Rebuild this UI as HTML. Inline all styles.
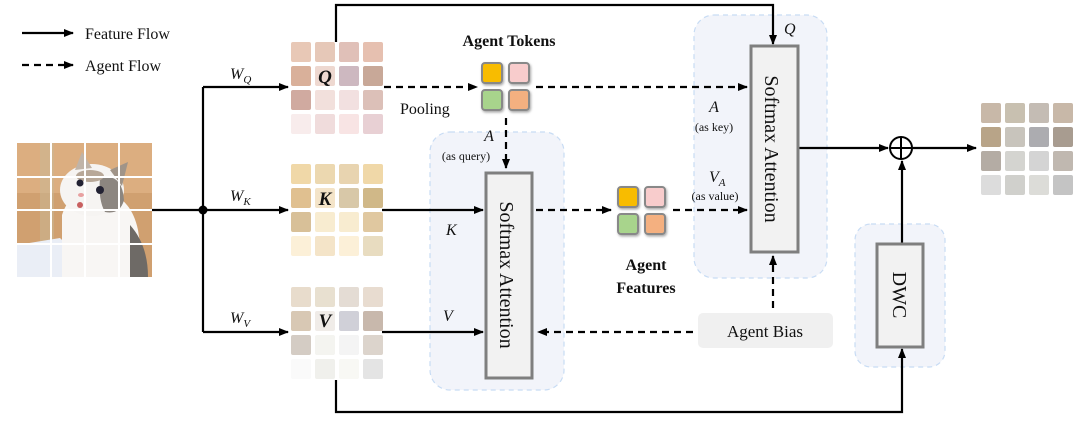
<!DOCTYPE html>
<html><head><meta charset="utf-8"><style>
html,body{margin:0;padding:0;background:#fff;width:1080px;height:429px;overflow:hidden}
svg{display:block}
text{font-family:"Liberation Serif",serif;fill:#111}
</style></head><body>
<svg width="1080" height="429" viewBox="0 0 1080 429" xmlns="http://www.w3.org/2000/svg">
<defs>
<marker id="ah" markerWidth="10" markerHeight="8" refX="9" refY="4" orient="auto" markerUnits="userSpaceOnUse">
<path d="M0,0 L10,4 L0,8 Z" fill="#000"/></marker>
<filter id="sh" x="-30%" y="-30%" width="160%" height="160%"><feDropShadow dx="1" dy="1.5" stdDeviation="1.2" flood-color="#000" flood-opacity="0.35"/></filter>
<clipPath id="catclip"><rect x="17" y="143" width="135" height="134"/></clipPath>
</defs>

<!-- containers first -->
<rect x="430" y="132" width="134" height="258" rx="20" fill="#f2f4fa" stroke="#c8dcf4" stroke-width="1.2" stroke-dasharray="5,4"/>
<rect x="694" y="15" width="133" height="263" rx="20" fill="#f2f4fa" stroke="#c8dcf4" stroke-width="1.2" stroke-dasharray="5,4"/>
<rect x="855" y="224" width="90" height="143" rx="16" fill="#f2f4fa" stroke="#c8dcf4" stroke-width="1.2" stroke-dasharray="5,4"/>

<!-- legend -->
<line x1="22" y1="33" x2="73" y2="33" stroke="#000" stroke-width="2.2" marker-end="url(#ah)"/>
<text x="85" y="39" font-size="16">Feature Flow</text>
<line x1="22" y1="65" x2="73" y2="65" stroke="#000" stroke-width="2.2" stroke-dasharray="7,5" marker-end="url(#ah)"/>
<text x="85" y="71" font-size="16">Agent Flow</text>

<!-- cat -->
<g clip-path="url(#catclip)">
<rect x="17" y="143" width="135" height="134" fill="#d0a070"/>
<rect x="17" y="143" width="135" height="50" fill="#dcae80"/>
<rect x="40" y="143" width="14" height="110" fill="#c8b896" opacity="0.5"/>
<path d="M17,245 L60,238 L100,277 L17,277 Z" fill="#eaeef6"/>
<path d="M62,277 L62,215 Q70,190 95,190 Q130,192 138,230 L145,277 Z" fill="#f8f6f4"/>
<ellipse cx="92" cy="190" rx="32" ry="26" fill="#f6f4f2"/>
<path d="M75,170 L82,152 L92,168 Z" fill="#c0b4a8"/>
<path d="M110,170 L128,162 L122,186 Z" fill="#a09488"/>
<path d="M100,178 Q122,172 124,200 Q120,215 105,212 Q98,200 100,178 Z" fill="#8c8680"/>
<ellipse cx="90" cy="176" rx="14" ry="6" fill="#b8a898"/>
<path d="M130,225 Q148,245 148,277 L130,277 Z" fill="#6e6a66"/>
<circle cx="80" cy="183" r="3.5" fill="#223"/><circle cx="100" cy="190" r="4" fill="#223"/>
<ellipse cx="81" cy="195" rx="3" ry="2" fill="#e8a0a0"/>
<ellipse cx="80" cy="205" rx="3" ry="3" fill="#c86060"/>
</g>
<g stroke="#fff" stroke-width="2">
<line x1="51" y1="143" x2="51" y2="277"/><line x1="85" y1="143" x2="85" y2="277"/><line x1="119" y1="143" x2="119" y2="277"/>
<line x1="17" y1="177" x2="152" y2="177"/><line x1="17" y1="210" x2="152" y2="210"/><line x1="17" y1="244" x2="152" y2="244"/>
</g>

<!-- branch lines -->
<g stroke="#000" stroke-width="2.2" fill="none">
<line x1="152" y1="210" x2="203" y2="210"/>
<line x1="203" y1="87" x2="203" y2="332"/>
<line x1="203" y1="87" x2="288" y2="87" marker-end="url(#ah)"/>
<line x1="203" y1="210" x2="288" y2="210" marker-end="url(#ah)"/>
<line x1="203" y1="332" x2="288" y2="332" marker-end="url(#ah)"/>
<polyline points="336,42 336,5 773,5 773,44" marker-end="url(#ah)"/>
<polyline points="336,380 336,412 902,412 902,349" marker-end="url(#ah)"/>
<line x1="382" y1="210" x2="483" y2="210" marker-end="url(#ah)"/>
<line x1="382" y1="332" x2="483" y2="332" marker-end="url(#ah)"/>
<line x1="798" y1="148" x2="888" y2="148" marker-end="url(#ah)"/>
<line x1="912" y1="148" x2="976" y2="148" marker-end="url(#ah)"/>
<line x1="902" y1="243" x2="902" y2="161" marker-end="url(#ah)"/>
</g>
<circle cx="203" cy="210" r="4.5" fill="#000"/>
<text x="230" y="79" font-size="16" font-style="italic">W<tspan font-size="11" dy="4">Q</tspan></text>
<text x="230" y="201" font-size="16" font-style="italic">W<tspan font-size="11" dy="4">K</tspan></text>
<text x="230" y="323" font-size="16" font-style="italic">W<tspan font-size="11" dy="4">V</tspan></text>

<g>
<rect x="291" y="42" width="20" height="20" rx="2" fill="#e8c8b6"/><rect x="315" y="42" width="20" height="20" rx="2" fill="#e6c8b8"/><rect x="339" y="42" width="20" height="20" rx="2" fill="#e0c0b8"/><rect x="363" y="42" width="20" height="20" rx="2" fill="#e6c0b0"/>
<rect x="291" y="66" width="20" height="20" rx="2" fill="#d9b09a"/><rect x="315" y="66" width="20" height="20" rx="2" fill="#eed8d0"/><rect x="339" y="66" width="20" height="20" rx="2" fill="#cdb8c0"/><rect x="363" y="66" width="20" height="20" rx="2" fill="#c8a898"/>
<rect x="291" y="90" width="20" height="20" rx="2" fill="#d0aaa0"/><rect x="315" y="90" width="20" height="20" rx="2" fill="#f2e0dc"/><rect x="339" y="90" width="20" height="20" rx="2" fill="#f2e0e0"/><rect x="363" y="90" width="20" height="20" rx="2" fill="#dcc0b8"/>
<rect x="291" y="114" width="20" height="20" rx="2" fill="#f8ecec"/><rect x="315" y="114" width="20" height="20" rx="2" fill="#f0dcdc"/><rect x="339" y="114" width="20" height="20" rx="2" fill="#f8e4e4"/><rect x="363" y="114" width="20" height="20" rx="2" fill="#e8d0d4"/>
<rect x="291" y="164" width="20" height="20" rx="2" fill="#f0d8a8"/><rect x="315" y="164" width="20" height="20" rx="2" fill="#ecd8b0"/><rect x="339" y="164" width="20" height="20" rx="2" fill="#e8d4b0"/><rect x="363" y="164" width="20" height="20" rx="2" fill="#f0d8a8"/>
<rect x="291" y="188" width="20" height="20" rx="2" fill="#e0c090"/><rect x="315" y="188" width="20" height="20" rx="2" fill="#f4e4c8"/><rect x="339" y="188" width="20" height="20" rx="2" fill="#d8c8a8"/><rect x="363" y="188" width="20" height="20" rx="2" fill="#d0b888"/>
<rect x="291" y="212" width="20" height="20" rx="2" fill="#d8c098"/><rect x="315" y="212" width="20" height="20" rx="2" fill="#f8ecd0"/><rect x="339" y="212" width="20" height="20" rx="2" fill="#f8ecd0"/><rect x="363" y="212" width="20" height="20" rx="2" fill="#e0c8a0"/>
<rect x="291" y="236" width="20" height="20" rx="2" fill="#fcf0d8"/><rect x="315" y="236" width="20" height="20" rx="2" fill="#f4e4c8"/><rect x="339" y="236" width="20" height="20" rx="2" fill="#fcf0d8"/><rect x="363" y="236" width="20" height="20" rx="2" fill="#e8dcc0"/>
<rect x="291" y="287" width="20" height="20" rx="2" fill="#e8dccc"/><rect x="315" y="287" width="20" height="20" rx="2" fill="#e8e0d0"/><rect x="339" y="287" width="20" height="20" rx="2" fill="#e4dcd4"/><rect x="363" y="287" width="20" height="20" rx="2" fill="#e8dcd0"/>
<rect x="291" y="311" width="20" height="20" rx="2" fill="#d8c8b4"/><rect x="315" y="311" width="20" height="20" rx="2" fill="#f0ece8"/><rect x="339" y="311" width="20" height="20" rx="2" fill="#d0d0d8"/><rect x="363" y="311" width="20" height="20" rx="2" fill="#c8b8ac"/>
<rect x="291" y="335" width="20" height="20" rx="2" fill="#d4ccc4"/><rect x="315" y="335" width="20" height="20" rx="2" fill="#f4f4f0"/><rect x="339" y="335" width="20" height="20" rx="2" fill="#f4f4f4"/><rect x="363" y="335" width="20" height="20" rx="2" fill="#dcd4cc"/>
<rect x="291" y="359" width="20" height="20" rx="2" fill="#fafafa"/><rect x="315" y="359" width="20" height="20" rx="2" fill="#f0f0ec"/><rect x="339" y="359" width="20" height="20" rx="2" fill="#f8f8f4"/><rect x="363" y="359" width="20" height="20" rx="2" fill="#e4e4e4"/>
<rect x="981" y="103" width="20" height="20" rx="2" fill="#c8b8a8"/><rect x="1005" y="103" width="20" height="20" rx="2" fill="#c8c0b0"/><rect x="1029" y="103" width="20" height="20" rx="2" fill="#c4bcb4"/><rect x="1053" y="103" width="20" height="20" rx="2" fill="#c8b8a8"/>
<rect x="981" y="127" width="20" height="20" rx="2" fill="#b8a488"/><rect x="1005" y="127" width="20" height="20" rx="2" fill="#c8c4bc"/><rect x="1029" y="127" width="20" height="20" rx="2" fill="#acacb0"/><rect x="1053" y="127" width="20" height="20" rx="2" fill="#a89c90"/>
<rect x="981" y="151" width="20" height="20" rx="2" fill="#b4aca4"/><rect x="1005" y="151" width="20" height="20" rx="2" fill="#d4d4d0"/><rect x="1029" y="151" width="20" height="20" rx="2" fill="#d4d4d4"/><rect x="1053" y="151" width="20" height="20" rx="2" fill="#c0b8b0"/>
<rect x="981" y="175" width="20" height="20" rx="2" fill="#dcdcdc"/><rect x="1005" y="175" width="20" height="20" rx="2" fill="#d0d0cc"/><rect x="1029" y="175" width="20" height="20" rx="2" fill="#dcdcd8"/><rect x="1053" y="175" width="20" height="20" rx="2" fill="#c4c4c4"/>
</g>
<text x="325" y="83" font-size="19" font-weight="bold" font-style="italic" text-anchor="middle">Q</text>
<text x="325" y="205" font-size="19" font-weight="bold" font-style="italic" text-anchor="middle">K</text>
<text x="325" y="327" font-size="19" font-weight="bold" font-style="italic" text-anchor="middle">V</text>

<g stroke="#000" stroke-width="2.2" stroke-dasharray="7,5" fill="none">
<line x1="384" y1="87" x2="477" y2="87" marker-end="url(#ah)"/>
<line x1="536" y1="87" x2="747" y2="87" marker-end="url(#ah)"/>
<line x1="506" y1="118" x2="506" y2="168" marker-end="url(#ah)"/>
<line x1="536" y1="210" x2="611" y2="210" marker-end="url(#ah)"/>
<line x1="673" y1="210" x2="747" y2="210" marker-end="url(#ah)"/>
<line x1="693" y1="332" x2="538" y2="332" marker-end="url(#ah)"/>
<line x1="773" y1="308" x2="773" y2="256" marker-end="url(#ah)"/>
</g>

<g stroke="#888" stroke-width="2" filter="url(#sh)">
<rect x="482" y="63" width="20" height="20" rx="3" fill="#f8bc00"/><rect x="509" y="63" width="20" height="20" rx="3" fill="#f8cccc"/>
<rect x="482" y="90" width="20" height="20" rx="3" fill="#a8d48c"/><rect x="509" y="90" width="20" height="20" rx="3" fill="#f4b080"/>
<rect x="618" y="187" width="20" height="20" rx="3" fill="#f8bc00"/><rect x="645" y="187" width="20" height="20" rx="3" fill="#f8cccc"/>
<rect x="618" y="214" width="20" height="20" rx="3" fill="#a8d48c"/><rect x="645" y="214" width="20" height="20" rx="3" fill="#f4b080"/>
</g>
<text x="509" y="46" font-size="16" font-weight="bold" text-anchor="middle">Agent Tokens</text>
<text x="400" y="114" font-size="16">Pooling</text>
<text x="489" y="141" font-size="16" font-style="italic" text-anchor="middle">A</text>
<text x="466" y="160" font-size="12" text-anchor="middle">(as query)</text>
<text x="446" y="235" font-size="16" font-style="italic">K</text>
<text x="443" y="321" font-size="16" font-style="italic">V</text>
<text x="646" y="270" font-size="16" font-weight="bold" text-anchor="middle">Agent</text>
<text x="646" y="293" font-size="16" font-weight="bold" text-anchor="middle">Features</text>
<text x="714" y="112" font-size="16" font-style="italic" text-anchor="middle">A</text>
<text x="714" y="131" font-size="12" text-anchor="middle">(as key)</text>
<text x="709" y="182" font-size="16" font-style="italic">V<tspan font-size="11" dy="4">A</tspan></text>
<text x="715" y="200" font-size="12" text-anchor="middle">(as value)</text>
<text x="784" y="34" font-size="16" font-style="italic">Q</text>

<rect x="486" y="173" width="46" height="205" fill="#f2f2f2" stroke="#7f7f7f" stroke-width="3"/>
<text transform="translate(500,275) rotate(90)" font-size="20" text-anchor="middle">Softmax Attention</text>
<rect x="751" y="46" width="47" height="206" fill="#f2f2f2" stroke="#7f7f7f" stroke-width="3"/>
<text transform="translate(765,149) rotate(90)" font-size="20" text-anchor="middle">Softmax Attention</text>
<rect x="877" y="244" width="46" height="103" fill="#f2f2f2" stroke="#7f7f7f" stroke-width="3"/>
<text transform="translate(893,295) rotate(90)" font-size="20" text-anchor="middle">DWC</text>
<rect x="698" y="313" width="135" height="35" rx="5" fill="#f0f0f0"/>
<text x="765" y="337" font-size="17" text-anchor="middle">Agent Bias</text>

<circle cx="901" cy="148" r="11" fill="#fff" stroke="#000" stroke-width="2"/>
<line x1="890" y1="148" x2="912" y2="148" stroke="#000" stroke-width="2"/>
<line x1="901" y1="137" x2="901" y2="159" stroke="#000" stroke-width="2"/>
</svg>
</body></html>
